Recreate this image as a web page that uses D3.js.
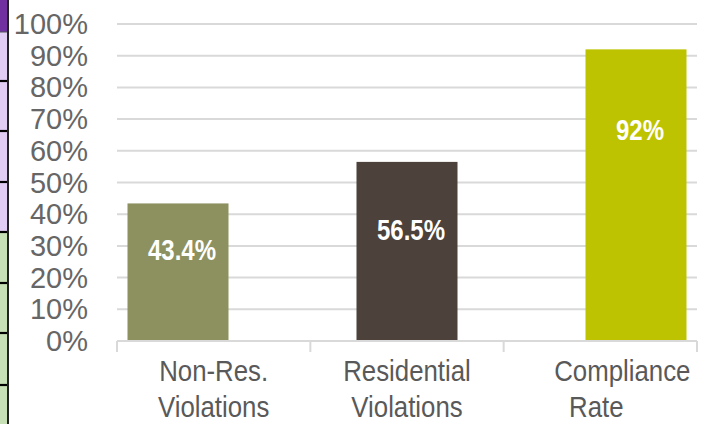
<!DOCTYPE html>
<html>
<head>
<meta charset="utf-8">
<script src="https://cdn.jsdelivr.net/npm/d3@7"></script>
<style>
  html, body { margin: 0; padding: 0; background: #fff; }
  svg { display: block; }
</style>
</head>
<body>
<svg id="chart" width="713" height="424"></svg>
<script>
// ---- data ----
const categories = [["Non-Res.", "Violations"], ["Residential", "Violations"], ["Compliance", "Rate"]];
const values = [43.4, 56.5, 92];
const valueLabels = ["43.4%", "56.5%", "92%"];
const barColors = ["#8d915f", "#4c413b", "#bdc300"];
const yTicks = [0, 10, 20, 30, 40, 50, 60, 70, 80, 90, 100];
// cropped table cells at the left edge: [start row, end row, fill]
const tableCells = [[0, 32, "#7030a0"], [32, 81, "#e1cdf3"], [81, 131, "#e1cdf3"], [131, 182, "#e1cdf3"],
                    [182, 232, "#e1cdf3"], [232, 283, "#c7e0b5"], [283, 333, "#c7e0b5"], [333, 385, "#c7e0b5"], [385, 430, "#c7e0b5"]];

// ---- layout ----
const W = 713, H = 424;
const plotL = 117, plotR = 697, plotT = 24, plotB = 341;
const svg = d3.select("#chart");
const keys = categories.map((c, i) => i);

const y = d3.scaleLinear().domain([0, 100]).range([plotB, plotT]);
const xAxisBand = d3.scaleBand().domain(keys).range([plotL, plotR]);
const xBar = d3.scalePoint().domain(keys).range([178, 636]);
const barW = 101;

// left table fragment
const tbl = svg.append("g");
tbl.selectAll("rect").data(tableCells).join("rect")
  .attr("x", 0).attr("width", 8)
  .attr("y", d => d[0]).attr("height", d => d[1] - d[0])
  .attr("fill", d => d[2]);
tbl.selectAll("line.h").data(tableCells.slice(1)).join("line")
  .attr("class", "h")
  .attr("x1", 0).attr("x2", 9)
  .attr("y1", d => d[0]).attr("y2", d => d[0])
  .attr("stroke", (d, i) => i === 0 ? "#555" : "#000")
  .attr("stroke-width", (d, i) => i === 0 ? 1 : 2.2);
tbl.append("line").attr("x1", 8).attr("x2", 8).attr("y1", 0).attr("y2", H)
  .attr("stroke", "#222").attr("stroke-width", 2);

// gridlines
svg.append("g").selectAll("line").data(yTicks.filter(t => t > 0)).join("line")
  .attr("x1", plotL).attr("x2", plotR)
  .attr("y1", d => y(d)).attr("y2", d => y(d))
  .attr("stroke", "#d9d9d9").attr("stroke-width", 2);

// y tick labels
svg.append("g").selectAll("text").data(yTicks).join("text")
  .attr("x", 88).attr("y", d => y(d))
  .attr("text-anchor", "end").attr("dominant-baseline", "central")
  .attr("font-family", "'Liberation Sans', Arial, sans-serif")
  .attr("font-size", 29).attr("fill", "#666666")
  .text(d => d + "%");

// bars
svg.append("g").selectAll("rect").data(values).join("rect")
  .attr("x", (d, i) => xBar(i) - barW / 2).attr("width", barW)
  .attr("y", d => y(d)).attr("height", d => y(0) - y(d))
  .attr("fill", (d, i) => barColors[i]);

// x axis line and ticks
const ax = svg.append("g");
ax.append("line").attr("x1", plotL).attr("x2", plotR).attr("y1", plotB).attr("y2", plotB)
  .attr("stroke", "#d9d9d9").attr("stroke-width", 2);
const tickXs = keys.map(k => xAxisBand(k)).concat([xAxisBand(keys[keys.length - 1]) + xAxisBand.bandwidth()]);
ax.selectAll("line.t").data(tickXs).join("line").attr("class", "t")
  .attr("x1", d => d).attr("x2", d => d).attr("y1", plotB).attr("y2", plotB + 11)
  .attr("stroke", "#d9d9d9").attr("stroke-width", 2);

// value labels (condensed bold look)
const labelDrop = [57, 78, 91];
svg.append("g").selectAll("text").data(values).join("text")
  .attr("transform", (d, i) => `translate(${xBar(i) + 4},${y(d) + labelDrop[i]}) scale(0.8,1)`)
  .attr("text-anchor", "middle")
  .attr("font-family", "'Liberation Sans', Arial, sans-serif")
  .attr("font-weight", "bold").attr("font-size", 30).attr("fill", "#fff")
  .text((d, i) => valueLabels[i]);

// category labels (condensed look)
const catScale = 0.89;
const lineShift = [[0, 0], [0, 0], [22, -4]];
const catG = svg.append("g");
categories.forEach((lines, i) => {
  const cx = xAxisBand(i) + xAxisBand.bandwidth() / 2;
  lines.forEach((line, j) => {
    catG.append("text")
      .attr("text-anchor", "middle")
      .attr("font-family", "'Liberation Sans', Arial, sans-serif")
      .attr("font-size", 29).attr("fill", "#595959")
      .attr("transform", `translate(${cx + lineShift[i][j]},${381 + j * 36}) scale(${catScale},1)`)
      .text(line);
  });
});
</script>
</body>
</html>
